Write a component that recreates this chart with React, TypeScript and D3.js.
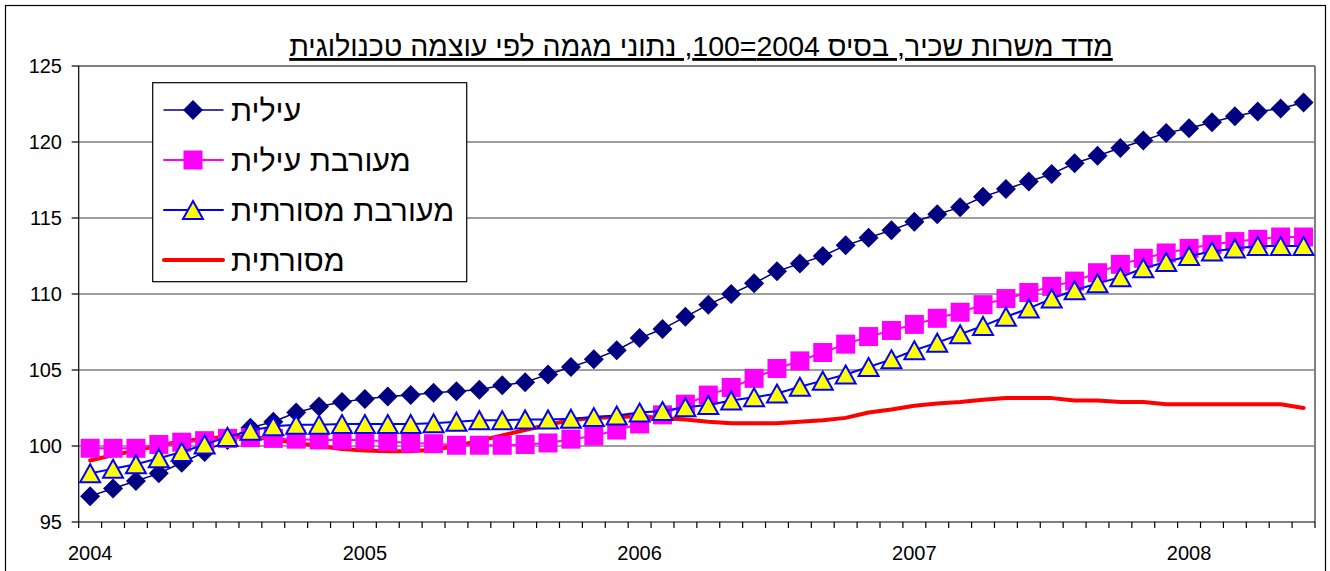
import React from 'react'
import * as d3 from 'd3'

// monthly observations, Jan 2004 .. Jun 2008
const elite = [
  96.7, 97.2, 97.7, 98.2, 98.9, 99.6, 100.4, 101.2, 101.6, 102.2,
  102.6, 102.9, 103.1, 103.25, 103.35, 103.5, 103.6, 103.7, 104.0, 104.2,
  104.7, 105.2, 105.7, 106.3, 107.1, 107.7, 108.5, 109.3, 110.0, 110.7,
  111.5, 112.0, 112.5, 113.2, 113.7, 114.2, 114.75, 115.25, 115.7, 116.4,
  116.9, 117.4, 117.9, 118.6, 119.1, 119.6, 120.1, 120.6, 120.9, 121.3,
  121.7, 122.0, 122.2, 122.6
]
const mixedElite = [
  99.85, 99.85, 99.85, 100.1, 100.25, 100.35, 100.5, 100.55, 100.5, 100.45,
  100.4, 100.4, 100.4, 100.3, 100.2, 100.15, 100.05, 100.05, 100.05, 100.1,
  100.2, 100.45, 100.65, 101.05, 101.45, 102.05, 102.75, 103.35, 103.85, 104.45,
  105.1, 105.6, 106.15, 106.7, 107.2, 107.6, 108.0, 108.4, 108.8, 109.3,
  109.7, 110.1, 110.5, 110.85, 111.4, 111.95, 112.35, 112.7, 113.0, 113.25,
  113.45, 113.6, 113.75, 113.75
]
const mixedTraditional = [
  98.2, 98.5, 98.8, 99.2, 99.6, 100.1, 100.6, 101.0, 101.3, 101.4,
  101.4, 101.45, 101.45, 101.45, 101.45, 101.5, 101.6, 101.7, 101.7, 101.75,
  101.75, 101.8, 101.9, 102.0, 102.2, 102.3, 102.55, 102.7, 103.0, 103.2,
  103.45, 103.9, 104.3, 104.7, 105.2, 105.7, 106.3, 106.8, 107.35, 107.9,
  108.5, 109.05, 109.7, 110.25, 110.7, 111.1, 111.7, 112.1, 112.5, 112.8,
  113.0, 113.15, 113.15, 113.15
]
const traditional = [
  99.05, 99.4, 99.7, 100.05, 100.3, 100.5, 100.6, 100.6, 100.45, 100.2,
  100.0, 99.8, 99.7, 99.65, 99.65, 99.75, 100.0, 100.35, 100.7, 101.05,
  101.4, 101.7, 101.85, 101.9, 101.95, 101.85, 101.75, 101.6, 101.5, 101.5,
  101.5, 101.6, 101.7, 101.85, 102.2, 102.4, 102.65, 102.8, 102.9, 103.05,
  103.15, 103.15, 103.15, 103.0, 103.0, 102.9, 102.9, 102.75, 102.75, 102.75,
  102.75, 102.75, 102.75, 102.5
]

const yearLabels = ['2004', '2005', '2006', '2007', '2008']
const yTicks = [95, 100, 105, 110, 115, 120, 125]
const seriesNames = ['עילית', 'מעורבת עילית', 'מעורבת מסורתית', 'מסורתית']
const title = 'מדד משרות שכיר, בסיס 2004=100, נתוני מגמה לפי עוצמה טכנולוגית'

const months = d3.range(elite.length)

const font = 'Liberation Sans, Arial, sans-serif'

const diamond = 'M0,-10L10,0L0,10L-10,0Z'
const triangle = 'M0,-9L10,9L-10,9Z'

function Marker({ kind, x, y }: { kind: string; x: number; y: number }) {
  if (kind === 'diamond') {
    return <path d={diamond} transform={`translate(${x},${y})`} fill="#000080" />
  }
  if (kind === 'square') {
    return <rect x={x - 9.5} y={y - 9.5} width={19} height={19} fill="#FF00FF" />
  }
  return (
    <path d={triangle} transform={`translate(${x},${y})`} fill="#FFFF00"
      stroke="#0000FF" strokeWidth={2} strokeLinejoin="miter" />
  )
}

export default function App() {
  const left = 78.7, right = 1315, top = 66, bottom = 522

  const x = d3.scaleBand<number>().domain(months).range([left, right]).padding(0)
  const y = d3.scaleLinear().domain([95, 125]).range([bottom, top])
  const cx = (i: number) => (x(i) as number) + x.bandwidth() / 2

  const line = d3.line<number>().x((d, i) => cx(i)).y(d => y(d))

  const series = [
    { name: seriesNames[0], data: elite, color: '#000080', width: 1.5, marker: 'diamond' },
    { name: seriesNames[1], data: mixedElite, color: '#FF00FF', width: 2, marker: 'square' },
    { name: seriesNames[2], data: mixedTraditional, color: '#0000FF', width: 2, marker: 'triangle' },
    { name: seriesNames[3], data: traditional, color: '#FF0000', width: 4, marker: null }
  ]

  // draw order: red line at the bottom, then the marked series
  const drawOrder = [series[3], series[0], series[1], series[2]]

  const boundaries = [...months.map(i => x(i) as number), right]

  return (
    <svg width={1330} height={571}
      style={{ position: 'absolute', left: 0, top: 0, background: '#fff' }}>
      <rect x={5.5} y={5.5} width={1320} height={600} fill="#fff" stroke="#000" strokeWidth={1.2} />

      <text x={701} y={56} fontFamily={font} fontSize={28.5} textAnchor="middle"
        direction="rtl" textDecoration="underline">{title}</text>

      {/* gridlines */}
      {yTicks.filter(t => t !== 95).map(t => (
        <line key={t} x1={left} x2={right} y1={y(t)} y2={y(t)}
          stroke={t === 125 ? '#808080' : '#404040'} strokeWidth={t === 125 ? 2 : 1.2} />
      ))}
      <line x1={right} x2={right} y1={top} y2={bottom} stroke="#808080" strokeWidth={2} />

      {/* y axis */}
      <line x1={left} x2={left} y1={top} y2={bottom} stroke="#000" strokeWidth={1.2} />
      {yTicks.map(t => (
        <g key={t}>
          <line x1={left - 7} x2={left} y1={y(t)} y2={y(t)} stroke="#000" strokeWidth={1.2} />
          <text x={62} y={y(t)} dy="0.36em" fontFamily={font} fontSize={20} textAnchor="end">{t}</text>
        </g>
      ))}

      {/* x axis */}
      <line x1={left} x2={right} y1={bottom} y2={bottom} stroke="#000" strokeWidth={1.2} />
      {boundaries.map((b, i) => (
        <line key={i} x1={b} x2={b} y1={bottom} y2={bottom + 6} stroke="#000" strokeWidth={1.2} />
      ))}
      {yearLabels.map((lab, k) => (
        <text key={lab} x={cx(k * 12)} y={560} fontFamily={font} fontSize={20} textAnchor="middle">{lab}</text>
      ))}

      {/* series */}
      {drawOrder.map(s => (
        <g key={s.name}>
          <path d={line(s.data) as string} fill="none" stroke={s.color} strokeWidth={s.width}
            strokeLinejoin="round" strokeLinecap="round" />
          {s.marker && s.data.map((v, i) => (
            <Marker key={i} kind={s.marker as string} x={cx(i)} y={y(v)} />
          ))}
        </g>
      ))}

      {/* legend */}
      <rect x={152.7} y={82.7} width={314} height={199} fill="#fff" stroke="#000" strokeWidth={1.2} />
      {series.map((s, i) => {
        const ly = 110 + i * 50
        return (
          <g key={s.name}>
            <line x1={164} x2={223} y1={ly} y2={ly} stroke={s.color} strokeWidth={s.width} strokeLinecap="round" />
            {s.marker && <Marker kind={s.marker} x={193} y={ly} />}
            <text x={231} y={ly} dy="0.36em" fontFamily={font} fontSize={30.5}>{s.name}</text>
          </g>
        )
      })}
    </svg>
  )
}
